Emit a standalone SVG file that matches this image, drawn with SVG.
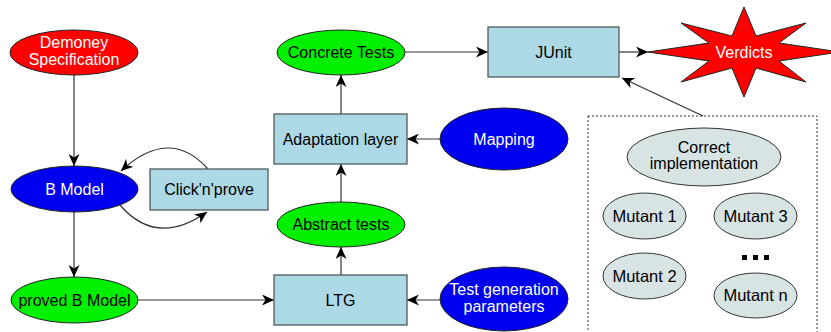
<svg xmlns="http://www.w3.org/2000/svg" width="831" height="332" viewBox="0 0 831 332">
<style>
text{font-family:"Liberation Sans",Arial,sans-serif;font-size:16px;text-anchor:middle}
.w{fill:#fff}
.k{fill:#000}
.box{fill:#add8e6;stroke:#4f5b5b;stroke-width:1.3}
.red{fill:#ff0000;stroke:#222;stroke-width:1}
.blue{fill:#0000f0;stroke:#222;stroke-width:1}
.green{fill:#00f000;stroke:#222;stroke-width:1}
.grey{fill:#d8e3e3;stroke:#333;stroke-width:1}
.c{fill:none;stroke:#333;stroke-width:1.2}
.m{font-size:16.5px}
</style>
<defs>
<marker id="a" viewBox="0 0 12 11" refX="12" refY="5.5" markerWidth="12" markerHeight="11" markerUnits="userSpaceOnUse" orient="auto">
<path d="M0,0 L12,5.5 L0,11 L3.5,5.5 z" fill="#000"/>
</marker>
</defs>
<g id="connectors">
<line class="c" x1="74" y1="75" x2="74" y2="166" marker-end="url(#a)"/>
<line class="c" x1="74" y1="212" x2="74" y2="277" marker-end="url(#a)"/>
<line class="c" x1="138" y1="300" x2="274" y2="300" marker-end="url(#a)"/>
<path class="c" d="M208,169 Q169.5,126 121,171" marker-end="url(#a)"/>
<path class="c" d="M120,205 Q156.5,247.5 207,212" marker-end="url(#a)"/>
<line class="c" x1="341" y1="275" x2="341" y2="247" marker-end="url(#a)"/>
<line class="c" x1="341" y1="202" x2="341" y2="164" marker-end="url(#a)"/>
<line class="c" x1="341" y1="114" x2="341" y2="75" marker-end="url(#a)"/>
<line class="c" x1="440" y1="139" x2="407" y2="139" marker-end="url(#a)"/>
<line class="c" x1="440" y1="300" x2="407" y2="300" marker-end="url(#a)"/>
<line class="c" x1="405" y1="52" x2="488" y2="52" marker-end="url(#a)"/>
<line class="c" x1="619" y1="52" x2="648" y2="52" marker-end="url(#a)"/>
<line class="c" x1="703" y1="116" x2="622" y2="78" marker-end="url(#a)"/>
</g>
<g id="demoney">
<ellipse class="red" cx="74" cy="52.5" rx="64" ry="22.5"/>
<text class="w" x="74" y="48">Demoney</text>
<text class="w" x="74" y="65">Specification</text>
</g>
<g id="bmodel">
<ellipse class="blue" cx="74.5" cy="189" rx="63.5" ry="23"/>
<text class="w" x="74.5" y="194.5">B Model</text>
</g>
<g id="clicknprove">
<rect class="box" x="150" y="169" width="118" height="41"/>
<text class="k" x="209" y="195">Click'n'prove</text>
</g>
<g id="provedbmodel">
<ellipse class="green" cx="74.5" cy="300" rx="63.5" ry="23"/>
<text class="k" x="74.5" y="305.5">proved B Model</text>
</g>
<g id="ltg">
<rect class="box" x="274" y="275" width="133" height="50"/>
<text class="k" x="340.5" y="305.5">LTG</text>
</g>
<g id="testgen">
<ellipse class="blue" cx="504" cy="299" rx="64" ry="32"/>
<text class="w" x="504" y="295">Test generation</text>
<text class="w" x="504" y="312">parameters</text>
</g>
<g id="abstracttests">
<ellipse class="green" cx="341" cy="224.5" rx="64" ry="22.5"/>
<text class="k" x="341" y="230">Abstract tests</text>
</g>
<g id="adaptation">
<rect class="box" x="274" y="114" width="133" height="50"/>
<text class="k" x="340.5" y="144.5">Adaptation layer</text>
</g>
<g id="mapping">
<ellipse class="blue" cx="504" cy="139" rx="64" ry="31"/>
<text class="w" x="504" y="144.5">Mapping</text>
</g>
<g id="concretetests">
<ellipse class="green" cx="341" cy="52.5" rx="64" ry="22.5"/>
<text class="k" x="341" y="58">Concrete Tests</text>
</g>
<g id="junit">
<rect class="box" x="488" y="27" width="131" height="50"/>
<text class="k" x="553.5" y="57.5">JUnit</text>
</g>
<g id="verdicts">
<polygon class="red" points="744,7 756,36 806,23 779,43 840,52 779,61 806,82 756,68 744,97 732,68 681,82 709,61 648,52 709,43 681,23 732,36"/>
<text class="w" x="744" y="58">Verdicts</text>
</g>
<g id="implementations">
<rect x="588" y="116" width="229" height="230" fill="none" stroke="#333" stroke-width="1" stroke-dasharray="2,2"/>
<g id="correct">
<ellipse class="grey" cx="704" cy="157" rx="77" ry="29"/>
<text class="k" x="704" y="153">Correct</text>
<text class="k" x="704" y="169">implementation</text>
</g>
<g id="mutant1">
<ellipse class="grey" cx="644.5" cy="216" rx="41.5" ry="23"/>
<text class="k m" x="644.5" y="221.5">Mutant 1</text>
</g>
<g id="mutant3">
<ellipse class="grey" cx="755.5" cy="216" rx="41.5" ry="23"/>
<text class="k m" x="755.5" y="221.5">Mutant 3</text>
</g>
<g id="mutant2">
<ellipse class="grey" cx="644.5" cy="276" rx="41.5" ry="23"/>
<text class="k m" x="644.5" y="281.5">Mutant 2</text>
</g>
<g id="mutantn">
<ellipse class="grey" cx="755.5" cy="295.5" rx="41.5" ry="22.5"/>
<text class="k m" x="755.5" y="301">Mutant n</text>
</g>
<g id="dots" fill="#000">
<rect x="742" y="255" width="5" height="5"/>
<rect x="753" y="255" width="5" height="5"/>
<rect x="764" y="255" width="5" height="5"/>
</g>
</g>
</svg>
